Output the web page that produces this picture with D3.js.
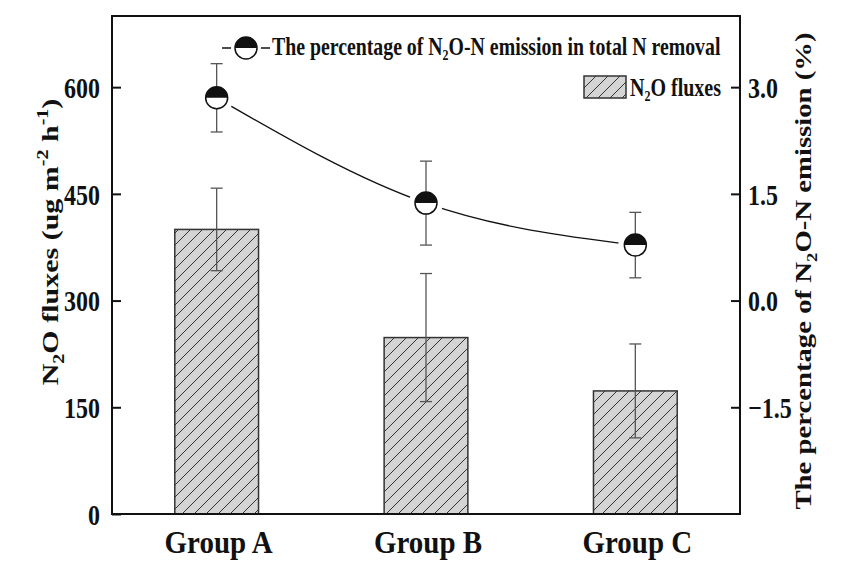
<!DOCTYPE html>
<html>
<head>
<meta charset="utf-8">
<script src="https://cdn.jsdelivr.net/npm/d3@7"></script>
<style>
  body { margin: 0; background: #fff; }
  svg text { font-family: "Liberation Serif", "Times New Roman", serif; font-weight: bold; fill: #111; }
</style>
</head>
<body>
<div id="chart"></div>
<script>
// Data
const groups = ['Group A', 'Group B', 'Group C'];
const fluxMean = [400, 248, 173];      // N2O fluxes (left axis)
const fluxErr = [58, 90, 66];
const pctMean = [2.85, 1.37, 0.78];    // % of N2O-N emission (right axis)
const pctErr = [0.48, 0.59, 0.46];
const leftTicks = [0, 150, 300, 450, 600];
const rightTicks = [-1.5, 0, 1.5, 3.0];

const W = 842, H = 565;
const plot = { left: 112, right: 740, top: 16, bottom: 514 };
const stretch = 1.25; // the figure's lettering is drawn tall and narrow

const svg = d3.select('#chart').append('svg')
    .attr('width', W)
    .attr('height', H);

// Hatch pattern for the bars
const defs = svg.append('defs');
const pat = defs.append('pattern')
    .attr('id', 'hatch')
    .attr('patternUnits', 'userSpaceOnUse')
    .attr('width', 12)
    .attr('height', 12);
pat.append('rect').attr('width', 12).attr('height', 12).attr('fill', '#d4d4d4');
pat.append('path')
    .attr('d', 'M0,12 L12,0 M-3,3 L3,-3 M9,15 L15,9')
    .attr('stroke', '#333')
    .attr('stroke-width', 1);

// Scales
const x = d3.scaleBand()
    .domain(groups)
    .range([plot.left, plot.right])
    .paddingInner(0.6)
    .paddingOuter(0.3);

const yL = d3.scaleLinear().domain([0, 700]).range([plot.bottom, plot.top]);
const yR = d3.scaleLinear().domain([-3, 4]).range([plot.bottom, plot.top]);

// Bars
svg.append('g').selectAll('rect')
    .data(groups)
    .enter()
    .append('rect')
    .attr('x', d => x(d))
    .attr('y', (d, i) => yL(fluxMean[i]))
    .attr('width', x.bandwidth())
    .attr('height', (d, i) => yL(0) - yL(fluxMean[i]))
    .attr('fill', 'url(#hatch)')
    .attr('stroke', '#333')
    .attr('stroke-width', 1.5);

// Bar error bars
const barErr = svg.append('g').attr('stroke', '#555').attr('stroke-width', 1.3);
groups.forEach((g, i) => {
    const cx = x(g) + x.bandwidth() / 2;
    const y1 = yL(fluxMean[i] + fluxErr[i]);
    const y2 = yL(fluxMean[i] - fluxErr[i]);
    barErr.append('line').attr('x1', cx).attr('x2', cx).attr('y1', y1).attr('y2', y2);
    barErr.append('line').attr('x1', cx - 6).attr('x2', cx + 6).attr('y1', y1).attr('y2', y1);
    barErr.append('line').attr('x1', cx - 6).attr('x2', cx + 6).attr('y1', y2).attr('y2', y2);
});

// Percentage line
const pts = groups.map((g, i) => [x(g) + x.bandwidth() / 2, yR(pctMean[i])]);
svg.append('path')
    .attr('d', d3.line().curve(d3.curveMonotoneX)(pts))
    .attr('fill', 'none')
    .attr('stroke', '#111')
    .attr('stroke-width', 1.3);

// white halo around markers (gap between line and symbol)
svg.append('g').selectAll('circle')
    .data(pts)
    .enter()
    .append('circle')
    .attr('cx', d => d[0])
    .attr('cy', d => d[1])
    .attr('r', 17)
    .attr('fill', '#fff');

const lineErr = svg.append('g').attr('stroke', '#555').attr('stroke-width', 1.3);
groups.forEach((g, i) => {
    const cx = x(g) + x.bandwidth() / 2;
    const y1 = yR(pctMean[i] + pctErr[i]);
    const y2 = yR(pctMean[i] - pctErr[i]);
    lineErr.append('line').attr('x1', cx).attr('x2', cx).attr('y1', y1).attr('y2', y2);
    lineErr.append('line').attr('x1', cx - 6).attr('x2', cx + 6).attr('y1', y1).attr('y2', y1);
    lineErr.append('line').attr('x1', cx - 6).attr('x2', cx + 6).attr('y1', y2).attr('y2', y2);
});

function halfMarker(sel, cx, cy, r) {
    const g = sel.append('g').attr('transform', `translate(${cx},${cy})`);
    g.append('circle').attr('r', r).attr('fill', '#fff');
    g.append('path')
        .attr('d', `M${-r},0 A${r},${r} 0 0 1 ${r},0 Z`)
        .attr('fill', '#111');
    g.append('circle').attr('r', r).attr('fill', 'none').attr('stroke', '#111').attr('stroke-width', 1.5);
}
pts.forEach(p => halfMarker(svg, p[0], p[1], 11));

// Frame
svg.append('rect')
    .attr('x', plot.left)
    .attr('y', plot.top)
    .attr('width', plot.right - plot.left)
    .attr('height', plot.bottom - plot.top)
    .attr('fill', 'none')
    .attr('stroke', '#111')
    .attr('stroke-width', 2);

// Left axis (inward ticks)
const axL = svg.append('g')
    .attr('transform', `translate(${plot.left},0)`)
    .call(d3.axisRight(yL).tickValues(leftTicks).tickSize(9).tickFormat(d3.format('d')));
axL.select('.domain').remove();
axL.selectAll('line').attr('stroke', '#111').attr('stroke-width', 2);
axL.selectAll('text')
    .attr('x', -12)
    .attr('dy', '0.34em')
    .attr('transform', `scale(1,${stretch})`)
    .attr('text-anchor', 'end')
    .style('font-size', '24px')
    .style('font-family', '"Liberation Serif", serif')
    .style('font-weight', 'bold');

// Right axis (inward ticks)
const axR = svg.append('g')
    .attr('transform', `translate(${plot.right},0)`)
    .call(d3.axisLeft(yR).tickValues(rightTicks).tickSize(9).tickFormat(d3.format('.1f')));
axR.select('.domain').remove();
axR.selectAll('line').attr('stroke', '#111').attr('stroke-width', 2);
axR.selectAll('text')
    .attr('x', 8)
    .attr('dy', '0.34em')
    .attr('transform', `scale(1,${stretch})`)
    .attr('text-anchor', 'start')
    .style('font-size', '24px')
    .style('font-family', '"Liberation Serif", serif')
    .style('font-weight', 'bold');

// Group labels
svg.append('g').selectAll('text')
    .data(groups)
    .enter()
    .append('text')
    .attr('transform', d => `translate(${x(d) + x.bandwidth() / 2 + 2},553) scale(1,1.12)`)
    .attr('text-anchor', 'middle')
    .style('font-size', '29px')
    .text(d => d);

// Left axis title
const tL = svg.append('text')
    .attr('transform', `translate(58,242) scale(1,${stretch}) rotate(-90)`)
    .attr('text-anchor', 'middle')
    .style('font-size', '24px');
tL.append('tspan').text('N');
tL.append('tspan').attr('dy', 6).style('font-size', '16px').text('2');
tL.append('tspan').attr('dy', -6).text('O fluxes (ug m');
tL.append('tspan').attr('dy', -10).style('font-size', '16px').text('-2');
tL.append('tspan').attr('dy', 10).text(' h');
tL.append('tspan').attr('dy', -10).style('font-size', '16px').text('-1');
tL.append('tspan').attr('dy', 10).text(')');

// Right axis title
const tR = svg.append('text')
    .attr('transform', `translate(811,271) scale(1,${stretch}) rotate(-90)`)
    .attr('text-anchor', 'middle')
    .style('font-size', '23px');
tR.append('tspan').text('The percentage of N');
tR.append('tspan').attr('dy', 6).style('font-size', '15px').text('2');
tR.append('tspan').attr('dy', -6).text('O-N emission (%)');

// Legend: line + marker
const lg = svg.append('g');
lg.append('line').attr('x1', 222).attr('x2', 270).attr('y1', 48).attr('y2', 48)
    .attr('stroke', '#111').attr('stroke-width', 1.3);
lg.append('circle').attr('cx', 246).attr('cy', 48).attr('r', 15).attr('fill', '#fff');
halfMarker(lg, 246, 48, 11);
const lt = lg.append('text')
    .attr('transform', `translate(272,55) scale(1,${stretch})`)
    .style('font-size', '19.8px');
lt.append('tspan').text('The percentage of N');
lt.append('tspan').attr('dy', 4).style('font-size', '12px').text('2');
lt.append('tspan').attr('dy', -4).text('O-N emission in total N removal');

// Legend: bars
lg.append('rect')
    .attr('x', 584).attr('y', 76)
    .attr('width', 42).attr('height', 22)
    .attr('fill', 'url(#hatch)')
    .attr('stroke', '#333')
    .attr('stroke-width', 1.5);
const bt = lg.append('text')
    .attr('transform', `translate(630,96) scale(1,${stretch})`)
    .style('font-size', '20px');
bt.append('tspan').text('N');
bt.append('tspan').attr('dy', 4).style('font-size', '12px').text('2');
bt.append('tspan').attr('dy', -4).text('O fluxes');
</script>
</body>
</html>
